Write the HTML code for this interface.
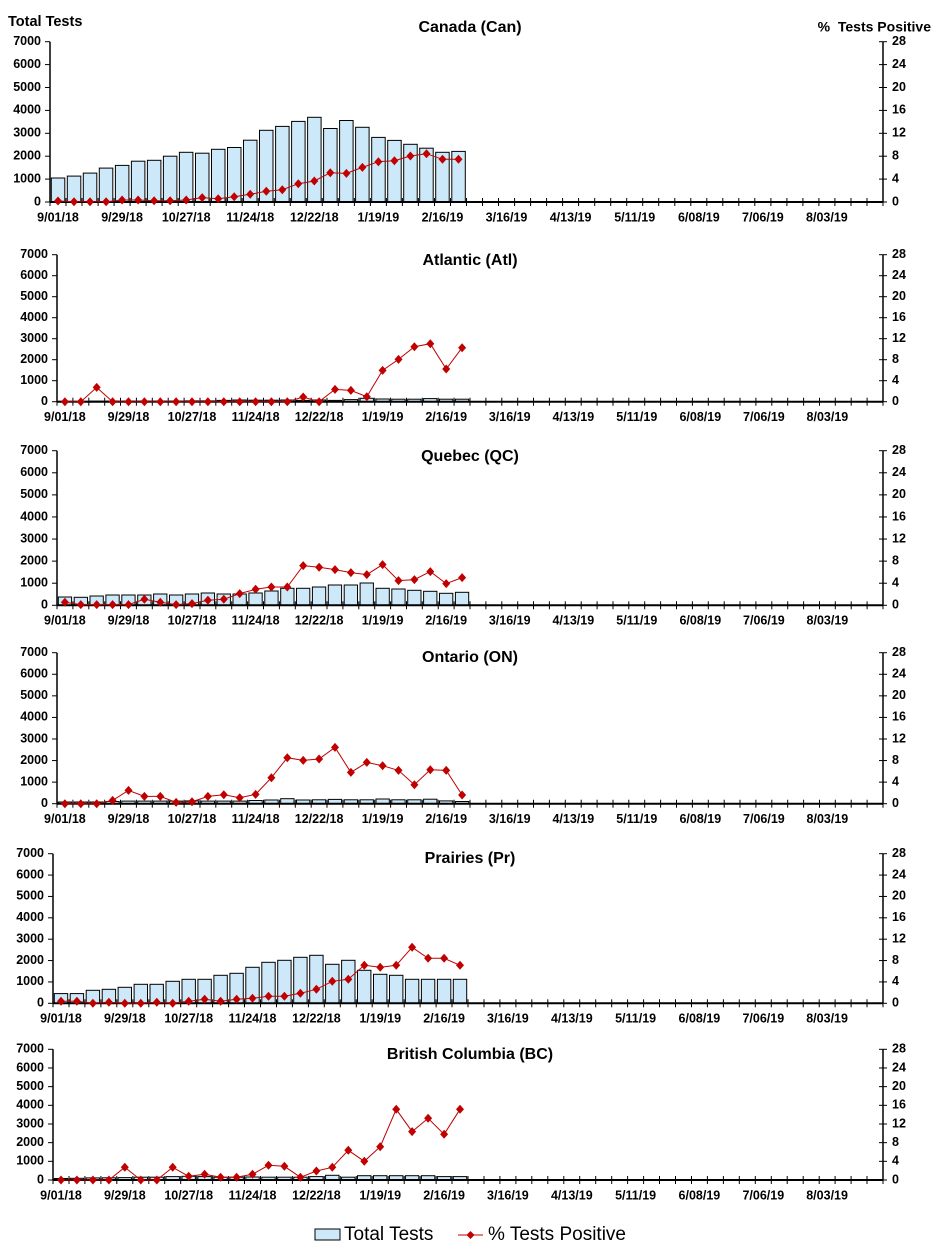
<!DOCTYPE html>
<html><head><meta charset="utf-8"><style>
html,body{margin:0;padding:0;background:#fff;}
svg{display:block;font-family:"Liberation Sans",Arial,sans-serif;}
</style></head><body>
<svg id="s" width="934" height="1257" viewBox="0 0 934 1257" xmlns="http://www.w3.org/2000/svg"></svg>
<script>
var P=[
{t:"Canada (Can)",ty:28,top:41.7,y0:202,xL:50,
b:[1050,1130,1260,1480,1600,1780,1820,2000,2170,2130,2300,2380,2700,3130,3300,3520,3700,3210,3560,3260,2820,2690,2520,2350,2170,2210],
l:[44,15,15,15,87,87,58,58,87,190,145,233,335,466,539,800,917,1280,1250,1513,1760,1805,2008,2110,1863,1863]},
{t:"Atlantic (Atl)",ty:261,top:254.7,y0:401.7,xL:57,
b:[20,20,30,30,30,30,30,30,40,40,60,80,70,70,80,60,80,60,100,160,130,120,120,150,120,120],
l:[0,0,682,0,0,0,0,0,0,0,0,0,0,0,0,222,0,587,540,238,1492,2016,2619,2762,1555,2571]},
{t:"Quebec (QC)",ty:457,top:450.7,y0:605.3,xL:57,
b:[377,362,422,468,468,468,513,468,513,558,513,513,558,649,770,770,830,920,920,1011,770,739,679,634,543,588],
l:[136,30,30,30,30,272,136,30,75,226,272,528,724,830,830,1796,1720,1615,1479,1388,1841,1117,1162,1524,981,1252]},
{t:"Ontario (ON)",ty:658,top:652.7,y0:803.7,xL:57,
b:[80,80,80,100,120,120,120,120,130,120,120,120,150,170,230,170,180,200,180,180,220,180,180,210,130,100],
l:[0,0,0,155,618,340,340,62,93,340,417,278,433,1205,2132,2008,2070,2611,1452,1916,1762,1545,880,1576,1545,402]},
{t:"Prairies (Pr)",ty:859,top:853.7,y0:1003.3,xL:53,
b:[452,452,608,655,748,889,889,1029,1122,1122,1310,1403,1684,1917,2011,2151,2245,1824,2011,1543,1356,1310,1122,1122,1122,1122],
l:[94,94,0,47,0,0,47,0,94,187,94,187,234,327,327,468,655,1029,1122,1777,1684,1777,2619,2105,2105,1777]},
{t:"British Columbia (BC)",ty:1055,top:1049.3,y0:1180,xL:53,
b:[80,90,110,120,130,150,150,180,200,180,150,150,160,150,150,150,180,250,150,230,230,230,230,230,180,180],
l:[0,0,0,0,679,0,0,679,196,304,143,143,304,786,732,143,482,679,1590,1000,1786,3786,2590,3304,2447,3786]}
];
var dates=["9/01/18","9/29/18","10/27/18","11/24/18","12/22/18","1/19/19","2/16/19","3/16/19","4/13/19","5/11/19","6/08/19","7/06/19","8/03/19"];
var xR=883,h='';
function T(x,y,s,o){return '<text x="'+x+'" y="'+y+'" '+(o||'')+'>'+s+'</text>';}
P.forEach(function(p){
 var sl=(xR-p.xL)/52, H=p.y0-p.top;
 function Y(v){return p.y0-v/7000*H;}
 h+=T(470,p.ty,p.t,'font-size="16" font-weight="bold" text-anchor="middle" dominant-baseline="middle"');
 p.b.forEach(function(v,i){var x=p.xL+i*sl+sl*0.08,w=sl*0.84,y=Y(v);
  h+='<rect x="'+x.toFixed(1)+'" y="'+y.toFixed(1)+'" width="'+w.toFixed(1)+'" height="'+(p.y0-y).toFixed(1)+'" fill="#cde9f9" stroke="#000" stroke-width="1"/>';});
 h+='<line x1="'+p.xL+'" y1="'+p.top+'" x2="'+p.xL+'" y2="'+p.y0+'" stroke="#000" stroke-width="1.5"/>';
 h+='<line x1="'+xR+'" y1="'+p.top+'" x2="'+xR+'" y2="'+p.y0+'" stroke="#000" stroke-width="1.5"/>';
 h+='<line x1="'+p.xL+'" y1="'+p.y0+'" x2="'+xR+'" y2="'+p.y0+'" stroke="#000" stroke-width="2"/>';
 for(var k=0;k<=7;k++){var y=Y(k*1000);
  h+='<line x1="'+(p.xL-5)+'" y1="'+y+'" x2="'+p.xL+'" y2="'+y+'" stroke="#000"/>';
  h+=T(p.xL-9,y,k*1000,'font-size="12.5" font-weight="bold" text-anchor="end" dominant-baseline="middle"');
  h+='<line x1="'+(xR-4)+'" y1="'+y+'" x2="'+(xR+4)+'" y2="'+y+'" stroke="#000"/>';
  h+=T(xR+9,y,k*4,'font-size="12.5" font-weight="bold" dominant-baseline="middle"');}
 for(var i=0;i<=52;i++){var x=p.xL+i*sl;h+='<line x1="'+x.toFixed(1)+'" y1="'+(p.y0-4)+'" x2="'+x.toFixed(1)+'" y2="'+(p.y0+4)+'" stroke="#000"/>';}
 dates.forEach(function(d,j){var x=p.xL+(j*4+0.5)*sl;h+=T(x.toFixed(1),p.y0+16,d,'font-size="12.5" font-weight="bold" text-anchor="middle" dominant-baseline="middle"');});
 var pts=p.l.map(function(v,i){return (p.xL+(i+0.5)*sl).toFixed(1)+','+Y(v).toFixed(1);});
 h+='<polyline points="'+pts.join(' ')+'" fill="none" stroke="#c00000" stroke-width="1"/>';
 pts.forEach(function(q){var a=q.split(','),x=+a[0],y=+a[1];
  h+='<polygon points="'+x+','+(y-4.5)+' '+(x+4)+','+y+' '+x+','+(y+4.5)+' '+(x-4)+','+y+'" fill="#c00000"/>';});
});
h+=T(8,22,"Total Tests",'font-size="14.5" font-weight="bold" dominant-baseline="middle"');
h+=T(931,28,"%&#160; Tests Positive",'font-size="14" font-weight="bold" text-anchor="end" dominant-baseline="middle"');
h+='<rect x="315" y="1229" width="25" height="11" fill="#cde9f9" stroke="#000"/>';
h+=T(344,1235,"Total Tests",'font-size="19" dominant-baseline="middle"');
h+='<line x1="458" y1="1235" x2="483" y2="1235" stroke="#c00000"/><polygon points="470.5,1231 474.5,1235 470.5,1239 466.5,1235" fill="#c00000"/>';
h+=T(488,1235,"% Tests Positive",'font-size="19" dominant-baseline="middle"');
document.getElementById('s').innerHTML=h;
</script>
</body></html>
